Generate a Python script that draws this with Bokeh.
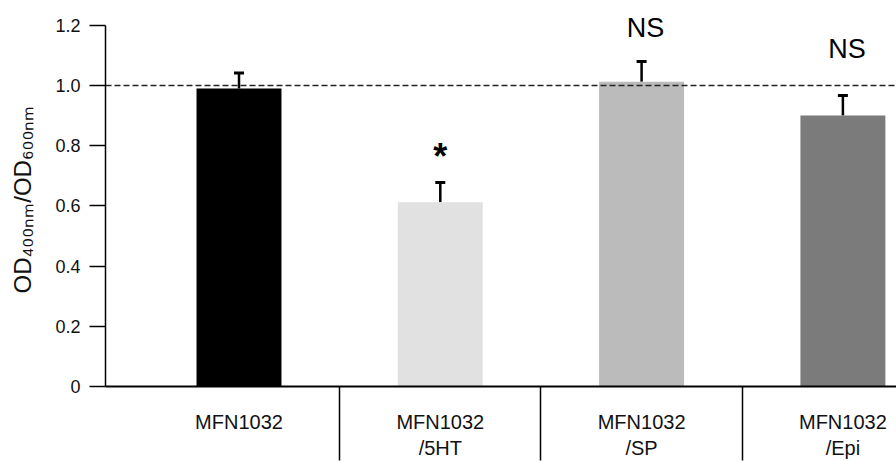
from bokeh.plotting import figure
from bokeh.models import (ColumnDataSource, Range1d, FixedTicker, Span, Whisker, TeeHead)
from bokeh.core.properties import value
from bokeh.embed import file_html
from bokeh.resources import INLINE

# ---- data ----
categories = ["MFN1032", "MFN1032\n/5HT", "MFN1032\n/SP", "MFN1032\n/Epi"]
values = [0.99, 0.612, 1.013, 0.901]
errors = [0.052, 0.066, 0.067, 0.066]
colors = ["#000000", "#e1e1e1", "#bbbbbc", "#7b7b7b"]
sig_labels = ["", "*", "NS", "NS"]
sig_y = [0.0, 0.764, 1.193, 1.122]
reference_level = 1.0
y_ticks = [0, 0.2, 0.4, 0.6, 0.8, 1.0, 1.2]
y_tick_labels = ["0", "0.2", "0.4", "0.6", "0.8", "1.0", "1.2"]

FONT = "Liberation Sans"

xs = list(range(1, len(categories) + 1))
uppers = [v + e for v, e in zip(values, errors)]
src = ColumnDataSource(dict(x=xs, value=values, upper=uppers, color=colors))

p = figure(width=896, height=461, output_backend="svg", toolbar_location=None,
           x_range=Range1d(0.3368, 4.2663), y_range=Range1d(0, 1.243),
           min_border_left=105, min_border_right=0,
           min_border_top=12, min_border_bottom=74)
p.outline_line_color = None
p.grid.visible = False
p.background_fill_color = "white"

# bars
p.vbar(x="x", top="value", bottom=0, width=0.422, fill_color="color",
       line_color=None, source=src)

# error bars (upper only)
p.add_layout(Whisker(base="x", lower="value", upper="upper", source=src,
                     line_width=2.5, line_color="black",
                     upper_head=TeeHead(size=10, line_width=3, line_color="black"),
                     lower_head=None))

# reference dashed line
p.add_layout(Span(location=reference_level, dimension="width", line_dash="6 3",
                  line_color="#222222", line_width=1.5))

# significance labels
sx = [x for x, s in zip(xs, sig_labels) if s == "NS"]
sy = [y for y, s in zip(sig_y, sig_labels) if s == "NS"]
p.text(x=sx, y=sy, text=["NS"] * len(sx), text_align="center", text_baseline="middle",
       x_offset=4, text_font=value(FONT), text_font_size="27px", text_color="black")
ax = [x for x, s in zip(xs, sig_labels) if s == "*"]
ay = [y for y, s in zip(sig_y, sig_labels) if s == "*"]
p.text(x=ax, y=ay, text=["*"] * len(ax), text_align="center", text_baseline="middle",
       text_font=value(FONT), text_font_size="36px", text_font_style="bold",
       text_color="black")

# x axis: category labels at bars, separators as minor ticks between them
mids = [x + 0.5 for x in xs[:-1]]
xaxis = p.xaxis[0]
xaxis.ticker = FixedTicker(ticks=xs, minor_ticks=mids)
xaxis.major_label_overrides = {x: c for x, c in zip(xs, categories)}
xaxis.major_label_text_font = FONT
xaxis.major_label_text_font_size = "20px"
xaxis.major_label_text_color = "#111111"
xaxis.major_label_text_line_height = 1.2
xaxis.major_label_standoff = -50
xaxis.major_tick_out = 0
xaxis.major_tick_in = 0
xaxis.minor_tick_out = 74
xaxis.minor_tick_in = 0
xaxis.minor_tick_line_width = 1.5
xaxis.minor_tick_line_color = "black"
xaxis.axis_line_width = 2

# y axis
yaxis = p.yaxis[0]
yaxis.bounds = (0, 1.2)
yaxis.ticker = FixedTicker(ticks=y_ticks)
yaxis.major_label_overrides = {t: l for t, l in zip(y_ticks, y_tick_labels)}
yaxis.axis_label = "OD\u2084\u2080\u2080\u2099\u2098/OD\u2086\u2080\u2080\u2099\u2098"
yaxis.axis_label_text_font = FONT
yaxis.axis_label_text_font_size = "24px"
yaxis.axis_label_text_font_style = "normal"
yaxis.axis_label_text_color = "#111111"
yaxis.axis_label_standoff = 16
yaxis.major_label_text_font = FONT
yaxis.major_label_text_font_size = "18px"
yaxis.major_label_text_color = "#111111"
yaxis.major_label_standoff = 9
yaxis.major_tick_out = 16
yaxis.major_tick_in = 0
yaxis.minor_tick_out = 0
yaxis.minor_tick_in = 0
yaxis.axis_line_width = 1.5
yaxis.major_tick_line_width = 1.5

open("out.html", "w").write(file_html(p, INLINE))
